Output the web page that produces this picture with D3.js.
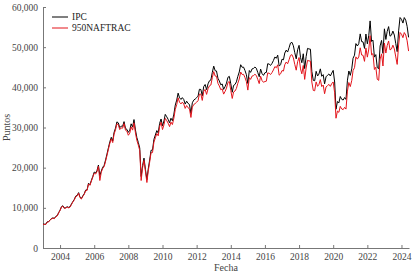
<!DOCTYPE html>
<html lang="es">
<head>
<meta charset="utf-8">
<title>IPC vs 950NAFTRAC</title>
<script src="https://d3js.org/d3.v7.min.js"></script>
<style>
  body { margin: 0; background: #fff; }
  svg text { font-family: "Liberation Serif", "Times New Roman", "DejaVu Serif", serif; }
</style>
</head>
<body>
<svg width="416" height="275"></svg>
<script>
// monthly values, Jan 2003 .. Jun 2024
const startYear = 2003;
const ipc = [
  5954,5927,5914,6510,6598,6929,7355,7489,7380,7860,8054,8795,
  9428,10296,10517,9948,10036,10281,10116,10264,10957,11564,12103,12918,
  13097,13789,12677,12323,12964,13486,14409,14463,16120,15759,16831,17803,
  18907,18706,19273,20646,18000,19147,20095,20562,21937,23382,24963,26448,
  27561,26639,28748,29848,31400,31151,29931,30348,30296,31459,29771,29537,
  28794,29331,30913,30099,31975,29395,27501,26291,24889,17800,20535,22380,
  19565,17000,19627,21898,24332,24368,27044,28130,29232,28646,31036,32120,
  30392,31634,33266,32687,32039,31157,32309,31680,33330,35568,36817,38551,
  37391,36983,37441,36963,35833,36558,35999,35721,33503,36160,36829,37077,
  37422,37816,39521,39461,37872,40199,40704,39422,40867,41620,41833,43706,
  45278,44120,44077,42263,41588,40623,40838,39492,40185,41039,42499,42727,
  40880,38783,40462,40712,41363,42737,43818,45628,44986,45028,44190,43146,
  40951,44190,43725,44582,44704,45054,44753,43722,42633,44543,43419,42978,
  43631,43715,45881,45785,45459,45966,46661,47541,47246,48009,45286,45643,
  47001,46857,48542,49261,48788,49857,51012,51210,50346,48626,47092,49354,
  50456,47438,46125,48354,44663,47663,49698,49548,49504,43943,41733,41640,
  43988,42824,43281,44597,42749,43161,40863,42623,43011,43337,42820,43541,
  44216,41324,34554,36470,36122,37716,37020,36841,37458,36988,41779,44067,
  42986,44593,47246,48010,50886,50290,50868,53305,51386,51310,49699,53272,
  50827,52969,56537,51418,51753,47525,48144,44919,44627,50312,51685,48464,
  54564,51917,53904,55121,52736,52993,54009,53022,50875,48885,54060,57386,
  56931,56000,57369,56728,55179,52440
];
const naftrac = [
  5890,5870,5850,6440,6530,6860,7280,7410,7310,7780,7970,8710,
  9330,10190,10410,9850,9940,10180,10010,10160,10850,11450,11980,12790,
  12970,13650,12550,12200,12830,13350,14260,14320,15960,15600,16660,17620,
  18620,18430,18980,20340,16800,18860,19790,20250,21610,23030,24590,26050,
  27150,26240,28320,29400,30930,30680,29480,29890,29840,30990,29320,29090,
  28070,28600,30140,29350,31180,28660,26810,25630,24270,16800,20020,21820,
  19080,16300,19140,21350,23720,23760,26370,27430,28500,27930,30260,31320,
  29480,30680,32270,31710,31080,30220,31340,30730,32330,34500,35710,37390,
  36270,35870,36320,35850,34760,35460,34920,34650,32500,35080,35720,35960,
  36300,36680,38340,38280,36740,38990,39480,38240,39640,40370,40580,42390,
  43920,42800,42750,40990,40340,39400,39610,38310,38980,39810,41220,41450,
  39240,37230,38840,39080,39710,41030,42070,43800,43190,43230,42420,41420,
  39310,42420,41980,42800,42920,43250,42960,41970,40930,42760,41680,41260,
  41450,41530,43590,43500,43190,43670,44330,45160,44880,45610,43020,43360,
  44180,44050,45630,46310,45860,46870,47950,48140,47330,45710,44270,46390,
  47430,44590,43360,45450,41980,44800,46720,46580,46530,41310,39230,39140,
  41350,40250,40680,41920,40180,40570,38410,40070,40430,40740,40250,40930,
  41340,38640,32310,34100,33770,35260,34610,34450,35020,34580,39060,41200,
  40190,41690,44180,44890,47580,47020,47560,49840,48050,47970,46470,49810,
  47520,49530,52860,48080,48390,44440,45010,42000,41730,47040,48330,45310,
  51020,48540,50400,51540,49310,49550,50500,49580,47570,45710,50550,53660,
  53230,52360,53640,53040,51590,49030
];
const seriesNames = ["IPC", "950NAFTRAC"];
const seriesColors = ["#000000", "#e3141b"];
const yTicks = [0, 10000, 20000, 30000, 40000, 50000, 60000];
const xTickYears = [2004, 2006, 2008, 2010, 2012, 2014, 2016, 2018, 2020, 2022, 2024];

const svg = d3.select("svg");
const m = {left: 43, right: 7, top: 7, bottom: 27};
const w = 416, h = 275;
const serif = "'Liberation Serif', 'Times New Roman', 'DejaVu Serif', serif";

const dates = ipc.map((d, i) => new Date(startYear, i, 1));

const x = d3.scaleTime()
  .domain([new Date(2003, 0, 1), new Date(2024, 5, 10)])
  .range([m.left, w - m.right]);
const y = d3.scaleLinear().domain([0, 60000]).range([h - m.bottom, m.top]);

const axisColor = "#777";

const xAxis = svg.append("g")
  .attr("transform", `translate(0,${h - m.bottom})`)
  .call(d3.axisBottom(x)
    .tickValues(xTickYears.map(yr => new Date(yr, 0, 1)))
    .tickFormat(d3.timeFormat("%Y"))
    .tickSizeInner(-3).tickSizeOuter(0).tickPadding(5));

const yAxis = svg.append("g")
  .attr("transform", `translate(${m.left},0)`)
  .call(d3.axisLeft(y)
    .tickValues(yTicks)
    .tickFormat(d3.format(","))
    .tickSizeInner(-3).tickSizeOuter(0).tickPadding(5));

[xAxis, yAxis].forEach(g => {
  g.attr("font-family", serif);
  g.select(".domain").attr("stroke", axisColor);
  g.selectAll(".tick line").attr("stroke", axisColor);
  g.selectAll(".tick text").attr("fill", "#444").style("font-size", "9.5px")
    .style("font-family", serif);
});

// lines
const line = d3.line().x((d, i) => x(dates[i])).y(d => y(d));
[ipc, naftrac].forEach((s, k) => {
  svg.append("path")
    .datum(s)
    .attr("fill", "none")
    .attr("stroke", seriesColors[k])
    .attr("stroke-width", 1)
    .attr("stroke-linejoin", "round")
    .attr("d", line);
});

// axis titles
svg.append("text")
  .attr("x", (m.left + w - m.right) / 2)
  .attr("y", 271)
  .attr("text-anchor", "middle")
  .attr("fill", "#444")
  .style("font-size", "10px")
  .style("font-family", serif)
  .text("Fecha");

svg.append("text")
  .attr("transform", `translate(10,${(m.top + h - m.bottom) / 2}) rotate(-90)`)
  .attr("text-anchor", "middle")
  .attr("fill", "#444")
  .style("font-size", "10px")
  .style("font-family", serif)
  .text("Puntos");

// legend
const legend = svg.append("g").attr("transform", "translate(52,17)");
seriesNames.forEach((name, k) => {
  const g = legend.append("g").attr("transform", `translate(0,${k * 11})`);
  g.append("line").attr("x1", 0).attr("x2", 16)
    .attr("stroke", seriesColors[k]).attr("stroke-width", 1);
  g.append("text").attr("x", 20).attr("y", 3)
    .attr("fill", "#222").style("font-size", "9.5px")
    .style("font-family", serif).text(name);
});
</script>
</body>
</html>
